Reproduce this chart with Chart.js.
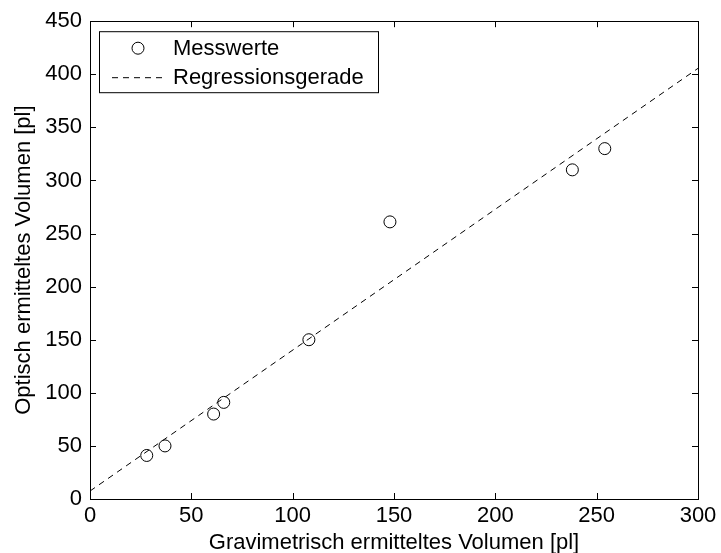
<!DOCTYPE html>
<html>
<head>
<meta charset="utf-8">
<script src="https://cdn.jsdelivr.net/npm/chart.js@4/dist/chart.umd.min.js"></script>
<style>
  html, body { margin: 0; padding: 0; background: #fff; }
  #wrap { width: 721px; height: 553px; }
</style>
</head>
<body>
<div id="wrap"><canvas id="chart"></canvas></div>
<script>
const gravVolumen = [28, 37, 61, 66, 108, 148, 238, 254];
const optVolumen  = [41, 50, 80, 91, 150, 261, 310, 330];

// Regressionsgerade endpoints
const regX = [0, 300];
const regY = [7.5, 405.6];

const xTicks = [0, 50, 100, 150, 200, 250, 300];
const yTicks = [0, 50, 100, 150, 200, 250, 300, 350, 400, 450];

const FONT = "'Liberation Sans', Arial, Helvetica, sans-serif";
const FS = 22;

// MATLAB-style box with inward ticks on all four sides
const boxPlugin = {
  id: 'boxTicks',
  afterDatasetsDraw(chart) {
    const { ctx, chartArea: a, scales } = chart;
    const len = 6;
    ctx.save();
    ctx.strokeStyle = '#000';
    ctx.lineWidth = 1;
    ctx.beginPath();
    for (const v of xTicks) {
      const px = Math.round(scales.x.getPixelForValue(v)) + 0.5;
      ctx.moveTo(px, a.bottom); ctx.lineTo(px, a.bottom - len);
      ctx.moveTo(px, a.top); ctx.lineTo(px, a.top + len);
    }
    for (const v of yTicks) {
      const py = Math.round(scales.y.getPixelForValue(v)) + 0.5;
      ctx.moveTo(a.left, py); ctx.lineTo(a.left + len, py);
      ctx.moveTo(a.right, py); ctx.lineTo(a.right - len, py);
    }
    ctx.stroke();
    ctx.strokeRect(Math.round(a.left) + 0.5, Math.round(a.top) + 0.5,
      Math.round(a.right - a.left), Math.round(a.bottom - a.top));
    ctx.restore();
  }
};

// Legend box in the upper left of the plot
const legendPlugin = {
  id: 'boxLegend',
  afterDraw(chart) {
    const { ctx, chartArea: a } = chart;
    const x0 = a.left + 9, y0 = a.top + 10, w = 279, h = 61;
    ctx.save();
    ctx.fillStyle = '#fff';
    ctx.fillRect(x0, y0, w, h);
    ctx.strokeStyle = '#000';
    ctx.lineWidth = 1;
    ctx.strokeRect(x0 + 0.5, y0 + 0.5, w, h);

    const ds = chart.data.datasets;
    const rows = [y0 + 17, y0 + 46];
    ctx.font = FS + 'px ' + FONT;
    ctx.fillStyle = '#000';
    ctx.textBaseline = 'middle';

    // row 1: circle marker
    ctx.beginPath();
    ctx.arc(x0 + 39, rows[0], 6, 0, Math.PI * 2);
    ctx.stroke();
    ctx.fillText(ds[0].label, x0 + 74, rows[0] + 1);

    // row 2: dashed line
    ctx.setLineDash([6, 5]);
    ctx.beginPath();
    ctx.moveTo(x0 + 13, rows[1] + 0.5);
    ctx.lineTo(x0 + 63, rows[1] + 0.5);
    ctx.stroke();
    ctx.setLineDash([]);
    ctx.fillText(ds[1].label, x0 + 74, rows[1] + 1);
    ctx.restore();
  }
};

new Chart(document.getElementById('chart'), {
  type: 'scatter',
  data: {
    datasets: [
      {
        label: 'Messwerte',
        data: gravVolumen.map((x, i) => ({ x, y: optVolumen[i] })),
        showLine: false,
        pointStyle: 'circle',
        pointRadius: 6,
        pointBorderWidth: 1,
        pointBorderColor: '#000',
        pointBackgroundColor: 'rgba(0,0,0,0)',
        pointHoverRadius: 6
      },
      {
        label: 'Regressionsgerade',
        data: regX.map((x, i) => ({ x, y: regY[i] })),
        showLine: true,
        borderColor: '#000',
        borderWidth: 1,
        borderDash: [6, 5],
        pointRadius: 0,
        fill: false
      }
    ]
  },
  options: {
    responsive: true,
    maintainAspectRatio: false,
    animation: false,
    layout: { padding: { top: 20, right: 23, left: 0, bottom: 0 } },
    plugins: {
      legend: { display: false },
      tooltip: { enabled: false }
    },
    scales: {
      x: {
        type: 'linear',
        min: 0, max: 300,
        afterBuildTicks: s => { s.ticks = xTicks.map(v => ({ value: v })); },
        afterFit: s => { s.height = 54; },
        grid: { display: false, drawTicks: false },
        border: { display: false },
        ticks: { color: '#000', font: { family: FONT, size: FS }, padding: 4, maxRotation: 0 },
        title: {
          display: true,
          text: 'Gravimetrisch ermitteltes Volumen [pl]',
          color: '#000',
          font: { family: FONT, size: FS, lineHeight: 0.9 },
          padding: { top: 0, bottom: 0 }
        }
      },
      y: {
        type: 'linear',
        min: 0, max: 450,
        afterBuildTicks: s => { s.ticks = yTicks.map(v => ({ value: v })); },
        afterFit: s => { s.width = 90; },
        grid: { display: false, drawTicks: false },
        border: { display: false },
        ticks: { color: '#000', font: { family: FONT, size: FS }, padding: 8 },
        title: {
          display: true,
          text: 'Optisch ermitteltes Volumen [pl]',
          color: '#000',
          font: { family: FONT, size: FS },
          padding: { top: 11, bottom: 0 }
        }
      }
    }
  },
  plugins: [boxPlugin, legendPlugin]
});
</script>
</body>
</html>
